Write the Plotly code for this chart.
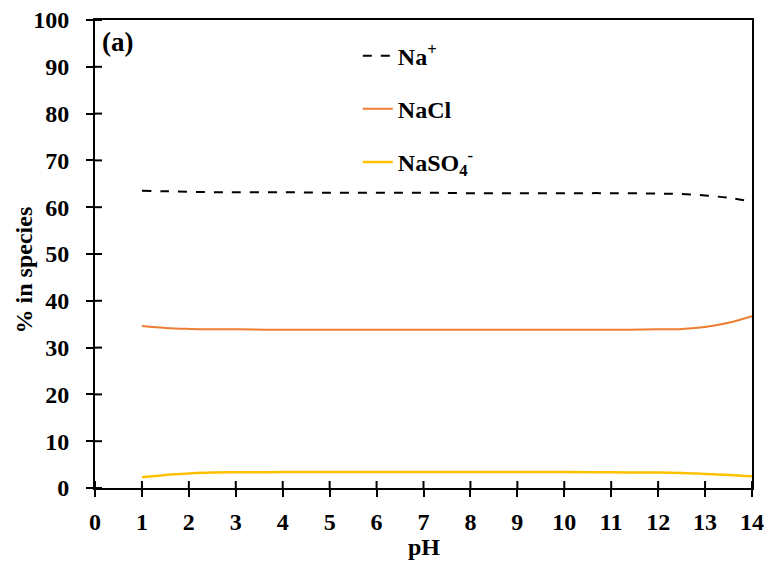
import plotly.graph_objects as go

# Speciation of sodium versus pH
ph = [1, 1.5, 2, 2.5, 3, 4, 5, 6, 7, 8, 9, 10, 11, 12, 12.5, 13, 13.5, 14]
na_plus = [63.5, 63.4, 63.3, 63.2, 63.2, 63.2, 63.1, 63.1, 63.1, 63.0, 63.0, 63.0, 63.0, 62.9, 62.8, 62.5, 62.0, 61.2]
nacl = [34.6, 34.2, 34.0, 33.9, 33.9, 33.8, 33.8, 33.8, 33.8, 33.8, 33.8, 33.8, 33.8, 33.9, 34.0, 34.4, 35.3, 36.7]
naso4 = [2.3, 2.8, 3.1, 3.3, 3.35, 3.4, 3.4, 3.4, 3.4, 3.4, 3.4, 3.4, 3.35, 3.3, 3.2, 3.0, 2.8, 2.5]

x_ticks = list(range(0, 15))
y_ticks = list(range(0, 101, 10))

FONT = "Liberation Serif"
BOLD = dict(family=FONT, size=24, color="black", weight="bold")
TICK_LEN = 7

fig = go.Figure()
fig.add_trace(go.Scatter(x=ph, y=na_plus, mode="lines", name="Na<sup>+</sup>",
                         line=dict(color="black", width=2, dash="dash", shape="spline"),
                         legendgroup="a"))
fig.add_trace(go.Scatter(x=ph, y=nacl, mode="lines", name="NaCl",
                         line=dict(color="#ED7D31", width=2, shape="spline"),
                         legendgroup="b"))
fig.add_trace(go.Scatter(x=ph, y=naso4, mode="lines", name="NaSO<sub>4</sub><sup>-</sup>",
                         line=dict(color="#FFC000", width=2.5, shape="spline"),
                         legendgroup="c"))

axis_common = dict(showgrid=False, zeroline=False, linecolor="black", linewidth=2,
                   tickcolor="black", tickwidth=2, ticklen=TICK_LEN, automargin=False,
                   ticks="outside", mirror=True, tickfont=BOLD)

fig.update_layout(
    template="none",
    width=768, height=563,
    margin=dict(l=95, r=16, t=20, b=75),
    paper_bgcolor="white", plot_bgcolor="white",
    font=BOLD,
    showlegend=True,
    legend=dict(x=0.40, y=0.971, xanchor="left", yanchor="top",
                bgcolor="rgba(0,0,0,0)", tracegroupgap=19,
                font=BOLD, itemwidth=30),
    xaxis=dict(range=[0, 14], tickvals=x_ticks, ticklabelstandoff=4, **axis_common),
    yaxis=dict(range=[0, 100], tickvals=y_ticks, ticklabelstandoff=12, **axis_common),
)

# inner half of the crossing tick marks
for xv in x_ticks:
    fig.add_shape(type="line", xref="x", yref="y", ysizemode="pixel", yanchor=0,
                  x0=xv, x1=xv, y0=0, y1=TICK_LEN, line=dict(color="black", width=2))
for yv in y_ticks:
    fig.add_shape(type="line", xref="x", yref="y", xsizemode="pixel", xanchor=0,
                  x0=0, x1=TICK_LEN, y0=yv, y1=yv, line=dict(color="black", width=2))

# axis titles
fig.add_annotation(x=0.5, y=-0.127, xref="paper", yref="paper", xanchor="center", yanchor="middle",
                   text="pH", showarrow=False, font=BOLD)
fig.add_annotation(x=-0.108, y=0.465, xref="paper", yref="paper", xanchor="center", yanchor="middle",
                   text="% in species", textangle=-90, showarrow=False, font=BOLD)

# panel label
fig.add_annotation(x=0.008, y=0.99, xref="paper", yref="paper", xanchor="left", yanchor="top",
                   text="(a)", showarrow=False, font=dict(family=FONT, size=27, color="black", weight="bold"))

fig.write_html("out.html")
